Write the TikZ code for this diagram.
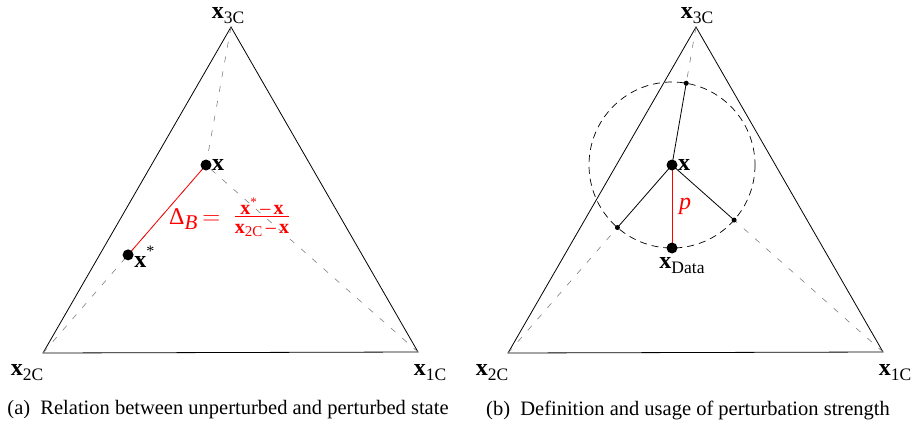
\documentclass[tikz,border=0pt]{standalone}
\usepackage{fontspec}
\setmainfont{Liberation Serif}
\usetikzlibrary{calc}
\newcommand{\vx}[1]{\textbf{x}\raisebox{-0.45ex}{\fontsize{17.5}{20}\selectfont #1}}
\begin{document}
\begin{tikzpicture}[x=1pt,y=-1pt,
  tri/.style={draw=black,line width=0.8pt},
  gdash/.style={draw=gray,line width=0.6pt,dash pattern=on 6pt off 9pt},
  bigdot/.style={circle,fill=black,inner sep=0pt,minimum size=11pt},
  smalldot/.style={circle,fill=black,inner sep=0pt,minimum size=5pt},
  lab/.style={font=\fontsize{24}{26}\selectfont,inner sep=1pt},
  captext/.style={font=\fontsize{20.5}{23}\selectfont,inner sep=0pt}]
\useasboundingbox (0,0) rectangle (917,431);
% ---------- left ----------
\coordinate (a3) at (231,27);
\coordinate (a2) at (43,353);
\coordinate (a1) at (418,352);
\coordinate (ax) at (206,165);
\draw[tri] (a3) -- (a2) -- (a1) -- cycle;
\draw[gdash] (a3) -- (ax);
\draw[gdash] (a2) -- (ax);
\draw[gdash] (a1) -- (ax);
\coordinate (axs) at ($(ax)!0.478!(a2)$);
\draw[red,line width=0.8pt] (ax) -- (axs);
\node[bigdot] (axdot) at (ax) {};
\node[bigdot] (axsdot) at (axs) {};
\node[lab,anchor=west] (axl) at ($(ax)+(5,0)$) {\textbf{x}};
\node[lab,anchor=west] (axsl) at ($(axs)+(5,2)$) {\textbf{x}\raisebox{1.0ex}{\fontsize{16}{18}\selectfont *}};
\node[lab,text=red,anchor=west] (delta) at (168,219) {Δ\raisebox{-0.45ex}{\fontsize{21}{23}\selectfont\textit{B}}\hspace{5pt}$=$};
\node[lab,text=red,inner sep=0pt] (frac) at (262,219) {\fontsize{20}{22}\selectfont\begin{tabular}{@{}c@{}}\textbf{x}\raisebox{0.8ex}{\fontsize{13}{14}\selectfont *}\,–\,\textbf{x}\\[-5pt]\hline\rule{0pt}{17pt}\textbf{x}\raisebox{-0.35ex}{\fontsize{15}{16}\selectfont 2C}\,–\,\textbf{x}\end{tabular}};
\node[lab,inner sep=0pt] (a3l) at (228,16) {\vx{3C}};
\node[lab] (a2l) at (27,373) {\vx{2C}};
\node[lab] (a1l) at (430,373) {\vx{1C}};
\node[captext] (capa) at (228,410) {(a)\ \ Relation between unperturbed and perturbed state};
% ---------- right ----------
\coordinate (b3) at (696,27);
\coordinate (b2) at (508,353);
\coordinate (b1) at (883,352);
\coordinate (bx) at (672,165);
\draw[tri] (b3) -- (b2) -- (b1) -- cycle;
\draw[black,line width=0.7pt,dash pattern=on 7pt off 5pt] (bx) circle (83);
\coordinate (p3) at ($(bx)!83pt!(b3)$);
\coordinate (p2) at ($(bx)!83pt!(b2)$);
\coordinate (p1) at ($(bx)!83pt!(b1)$);
\coordinate (bd) at ($(bx)+(0,83)$);
\draw[gdash] (b3) -- (p3);
\draw[gdash] (b2) -- (p2);
\draw[gdash] (b1) -- (p1);
\draw[line width=0.8pt] (bx) -- (p3);
\draw[line width=0.8pt] (bx) -- (p2);
\draw[line width=0.8pt] (bx) -- (p1);
\draw[red,line width=0.8pt] (bx) -- (bd);
\node[bigdot] (bxdot) at (bx) {};
\node[bigdot] (bddot) at (bd) {};
\node[smalldot] (p3dot) at (p3) {};
\node[smalldot] (p2dot) at (p2) {};
\node[smalldot] (p1dot) at (p1) {};
\node[lab,anchor=west] (bxl) at ($(bx)+(5,0)$) {\textbf{x}};
\node[lab,text=red] (pl) at (685,206) {\textit{p}};
\node[lab] (bdl) at (682,266) {\vx{Data}};
\node[lab,inner sep=0pt] (b3l) at (697,16) {\vx{3C}};
\node[lab] (b2l) at (492,373) {\vx{2C}};
\node[lab] (b1l) at (895,373) {\vx{1C}};
\node[captext] (capb) at (688,410) {(b)\ \ Definition and usage of perturbation strength};
\end{tikzpicture}
\end{document}
